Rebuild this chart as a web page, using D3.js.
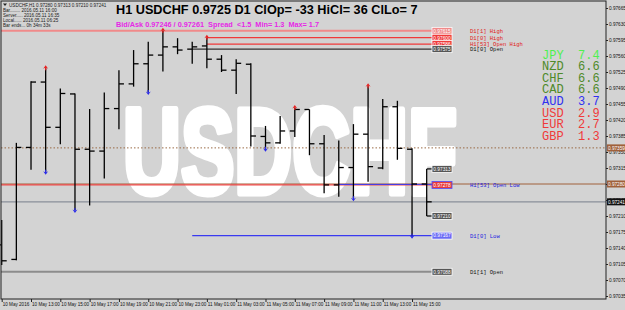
<!DOCTYPE html>
<html>
<head>
<meta charset="utf-8">
<script src="https://cdn.jsdelivr.net/npm/d3@7"></script>
<style>
  body { margin: 0; background: #d3d3d3; }
  svg { display: block; font-family: "Liberation Sans", Arial, sans-serif; }
  .mono { font-family: "Liberation Mono", "DejaVu Sans Mono", monospace; }
</style>
</head>
<body>
<div id="chart"></div>
<script>
// chart size, that is the window
const WIDTH = 625;
const HEIGHT = 310;
const PLOT = { left: 1, top: 1, right: 606, bottom: 299 };

// H1 bars, 10 May 11:00 .. 11 May 16:00
const barOpen = [0.97147, 0.97115, 0.97360, 0.97503, 0.97404, 0.97477, 0.97356, 0.97352, 0.97445, 0.97499,
  0.97543, 0.97562, 0.97580, 0.97575, 0.97582, 0.97553, 0.97529, 0.97542, 0.97384, 0.97370,
  0.97396, 0.97443, 0.97368, 0.97278, 0.97316, 0.97389, 0.97315, 0.97449, 0.97356, 0.97280];
const barHigh = [0.97201, 0.97370, 0.97505, 0.97533, 0.97489, 0.97478, 0.97444, 0.97480, 0.97529, 0.97573,
  0.97591, 0.97615, 0.97599, 0.97591, 0.97600, 0.97562, 0.97553, 0.97544, 0.97407, 0.97429,
  0.97446, 0.97443, 0.97387, 0.97375, 0.97411, 0.97494, 0.97466, 0.97462, 0.97358, 0.97313];
const barLow = [0.97103, 0.97113, 0.97311, 0.97307, 0.97367, 0.97223, 0.97233, 0.97292, 0.97400, 0.97493,
  0.97481, 0.97526, 0.97564, 0.97543, 0.97533, 0.97525, 0.97477, 0.97362, 0.97357, 0.97368,
  0.97383, 0.97343, 0.97260, 0.97252, 0.97249, 0.97285, 0.97312, 0.97333, 0.97167, 0.97210];
const barClose = [0.97112, 0.97360, 0.97503, 0.97404, 0.97478, 0.97356, 0.97352, 0.97445, 0.97499, 0.97543,
  0.97562, 0.97580, 0.97573, 0.97580, 0.97553, 0.97529, 0.97544, 0.97385, 0.97370, 0.97396,
  0.97443, 0.97368, 0.97278, 0.97316, 0.97389, 0.97318, 0.97449, 0.97358, 0.97280, 0.97241];

// fractal arrows (bar index)
const fractalUp = [3, 11, 14, 20, 25];
const fractalDown = [3, 5, 10, 18, 24, 28];

// time axis
const xTickBars = [0, 2, 4, 6, 8, 10, 12, 14, 16, 18, 20, 22, 24, 26, 28];
const xTickLabels = ["10 May 2016", "10 May 13:00", "10 May 15:00", "10 May 17:00", "10 May 19:00",
  "10 May 21:00", "10 May 23:00", "11 May 01:00", "11 May 03:00", "11 May 05:00", "11 May 07:00",
  "11 May 09:00", "11 May 11:00", "11 May 13:00", "11 May 15:00"];

// price axis
const yTicks = [0.97665, 0.97630, 0.97595, 0.97560, 0.97525, 0.97490, 0.97455, 0.97420, 0.97385,
  0.97350, 0.97315, 0.97280, 0.97245, 0.97210, 0.97175, 0.97140, 0.97105, 0.97070, 0.97035];

// levels drawn by the indicator
const levelNames = ["D1[1] High", "D1[0] High", "H1[53] Open High", "D1[0] Open", "H1[53] Open Low", "D1[0] Low", "D1[1] Open"];
const levelPrices = [0.97615, 0.97600, 0.97586, 0.97575, 0.97278, 0.97167, 0.97088];
const levelFromBar = [0, 14, 14, 13, 0, 13, 0];

// full width lines with a price flag on the axis
const dottedLevel = 0.97359;
const openLevel = 0.97280;
const bidPrice = 0.97246;
const askPrice = 0.97261;

// currency strength table
const currNames = ["JPY", "NZD", "CHF", "CAD", "AUD", "USD", "EUR", "GBP"];
const currValues = [7.4, 6.6, 6.6, 6.6, 3.7, 2.9, 2.7, 1.3];

const levelColor = {
  "D1[1] High": "#f08a8a", "D1[0] High": "#f03a3a", "H1[53] Open High": "#f03a3a",
  "D1[0] Open": "#333333", "H1[53] Open Low": "#f04a4a", "D1[0] Low": "#3a3af0", "D1[1] Open": "#8c8c8c"
};
const levelTextColor = {
  "D1[1] High": "#e02020", "D1[0] High": "#e02020", "H1[53] Open High": "#e02020",
  "D1[0] Open": "#111111", "H1[53] Open Low": "#2020e0", "D1[0] Low": "#2020e0", "D1[1] Open": "#111111"
};
const currColor = {
  JPY: "#4ef04e", NZD: "#4f8a2a", CHF: "#4f8a2a", CAD: "#4f8a2a",
  AUD: "#3030f0", USD: "#f03a3a", EUR: "#f03a3a", GBP: "#f03a3a"
};

const fmt = d3.format(".5f");

const svg = d3.select("#chart").append("svg")
  .attr("width", WIDTH)
  .attr("height", HEIGHT);

svg.append("rect").attr("width", WIDTH).attr("height", HEIGHT).attr("fill", "#d3d3d3");

const xscale = d3.scaleLinear().domain([0, 29]).range([1.7, 426.7]);
const yscale = d3.scaleLinear().domain([0.97035, 0.97665]).range([296, 8]);

const BOX_X = 432;

// watermark, heavy white letters
svg.append("text")
  .attr("x", 123)
  .attr("y", 193)
  .attr("textLength", 334)
  .attr("lengthAdjust", "spacingAndGlyphs")
  .style("font-size", "120px")
  .style("font-weight", "bold")
  .attr("fill", "#ffffff")
  .attr("stroke", "#ffffff")
  .attr("stroke-width", 7)
  .attr("stroke-linejoin", "round")
  .text("USDCHF");

// full width lines
svg.append("line")
  .attr("x1", PLOT.left).attr("x2", PLOT.right)
  .attr("y1", yscale(dottedLevel)).attr("y2", yscale(dottedLevel))
  .attr("stroke", "#9a6a45").attr("stroke-dasharray", "1.5,2");
svg.append("line")
  .attr("x1", PLOT.left).attr("x2", PLOT.right)
  .attr("y1", yscale(openLevel)).attr("y2", yscale(openLevel))
  .attr("stroke", "#a0603a");
svg.append("line")
  .attr("x1", PLOT.left).attr("x2", PLOT.right)
  .attr("y1", yscale(barClose[29])).attr("y2", yscale(barClose[29]))
  .attr("stroke", "#8a8f9a").attr("stroke-width", 1.2);

// indicator levels
const levels = levelNames.map((n, i) => ({ name: n, price: levelPrices[i], from: levelFromBar[i] }));

svg.selectAll(".level")
  .data(levels)
  .enter()
  .append("line")
  .attr("class", "level")
  .attr("x1", (d) => (d.from === 0 ? PLOT.left : xscale(d.from)))
  .attr("x2", BOX_X)
  .attr("y1", (d) => yscale(d.price))
  .attr("y2", (d) => yscale(d.price))
  .attr("stroke", (d) => levelColor[d.name])
  .attr("stroke-width", (d) => (d.name === "D1[1] High" || d.name === "D1[1] Open" ? 2 : 1.2));

// blue overlay on the open low level, from bar 23
svg.append("line")
  .attr("x1", xscale(23)).attr("x2", BOX_X)
  .attr("y1", yscale(levelPrices[4]) - 0.5).attr("y2", yscale(levelPrices[4]) - 0.5)
  .attr("stroke", "#3a3af0").attr("stroke-width", 1);

// bars
const bars = barOpen.map((o, i) => ({ i, o, h: barHigh[i], l: barLow[i], c: barClose[i] }));
const barG = svg.append("g").attr("stroke", "#000").attr("stroke-width", 1.3);

barG.selectAll(".hl").data(bars).enter().append("line")
  .attr("x1", (d) => xscale(d.i)).attr("x2", (d) => xscale(d.i))
  .attr("y1", (d) => yscale(d.h)).attr("y2", (d) => yscale(d.l));
barG.selectAll(".op").data(bars).enter().append("line")
  .attr("x1", (d) => xscale(d.i) - 5).attr("x2", (d) => xscale(d.i))
  .attr("y1", (d) => yscale(d.o)).attr("y2", (d) => yscale(d.o));
barG.selectAll(".cl").data(bars).enter().append("line")
  .attr("x1", (d) => xscale(d.i)).attr("x2", (d) => xscale(d.i) + 5)
  .attr("y1", (d) => yscale(d.c)).attr("y2", (d) => yscale(d.c));

// fractals
svg.selectAll(".fup").data(fractalUp).enter().append("path")
  .attr("fill", "#e82020")
  .attr("d", (i) => {
    const x = xscale(i), y = yscale(barHigh[i]) - 2;
    return `M${x - 2.5},${y + 2.5}L${x},${y - 1}L${x + 2.5},${y + 2.5}L${x + 0.6},${y + 1.5}L${x + 0.6},${y + 4}L${x - 0.6},${y + 4}L${x - 0.6},${y + 1.5}Z`;
  });
svg.selectAll(".fdn").data(fractalDown).enter().append("path")
  .attr("fill", "#2a2ae8")
  .attr("d", (i) => {
    const x = xscale(i), y = yscale(barLow[i]) + 2;
    return `M${x - 2.5},${y - 2.5}L${x},${y + 1}L${x + 2.5},${y - 2.5}L${x + 0.6},${y - 1.5}L${x + 0.6},${y - 4}L${x - 0.6},${y - 4}L${x - 0.6},${y - 1.5}Z`;
  });

// leader ticks of the running bar high/low
[barHigh[29], barLow[29]].forEach((p) => {
  svg.append("line")
    .attr("x1", xscale(29)).attr("x2", BOX_X)
    .attr("y1", yscale(p)).attr("y2", yscale(p))
    .attr("stroke", "#000").attr("stroke-width", 1.2);
});

// price flags next to the levels
function priceBox(price, fill, border) {
  const y = yscale(price);
  svg.append("rect")
    .attr("x", BOX_X).attr("y", y - 3.5)
    .attr("width", 20).attr("height", 7)
    .attr("fill", fill).attr("stroke", border).attr("stroke-width", 0.8);
  svg.append("text")
    .attr("x", BOX_X + 10).attr("y", y + 1.8)
    .attr("text-anchor", "middle")
    .style("font-size", "4.8px")
    .attr("fill", "#fff")
    .text(fmt(price));
}

levels.forEach((d) => {
  let fill = levelColor[d.name];
  let border = "#fff";
  if (d.name === "D1[0] Open" || d.name === "D1[1] Open") fill = "#555";
  if (d.name === "H1[53] Open Low") { fill = "#e83a3a"; border = "#5050ff"; }
  if (d.name === "D1[0] Low") { fill = "#6a6af5"; border = "#fff"; }
  priceBox(d.price, fill, border);
  svg.append("text")
    .attr("class", "mono")
    .attr("x", 470).attr("y", yscale(d.price) + 2.3)
    .style("font-size", "5.5px")
    .attr("fill", levelTextColor[d.name])
    .text(d.name);
});
priceBox(barHigh[29], "#555", "#fff");
priceBox(barLow[29], "#555", "#fff");

// frame
svg.append("rect")
  .attr("x", PLOT.left).attr("y", PLOT.top)
  .attr("width", PLOT.right - PLOT.left).attr("height", PLOT.bottom - PLOT.top)
  .attr("fill", "none").attr("stroke", "#222").attr("stroke-width", 1);

// price axis
const yAxis = d3.axisRight(yscale).tickValues(yTicks).tickFormat(fmt).tickSize(2).tickPadding(1);
const yg = svg.append("g").attr("transform", `translate(${PLOT.right},0)`).call(yAxis);
yg.select(".domain").remove();
yg.selectAll("text").style("font-size", "4.7px").attr("fill", "#111");
yg.selectAll("line").attr("stroke", "#222");

function axisFlag(price, fill, textColor) {
  const y = yscale(price);
  svg.append("rect")
    .attr("x", PLOT.right + 1).attr("y", y - 3.5)
    .attr("width", 18).attr("height", 7).attr("fill", fill);
  svg.append("text")
    .attr("x", PLOT.right + 2).attr("y", y + 1.7)
    .style("font-size", "4.7px").attr("fill", textColor)
    .text(fmt(price));
}
axisFlag(dottedLevel, "#a0603a", "#fff");
axisFlag(openLevel, "#a0603a", "#fff");
axisFlag(barClose[29], "#111", "#fff");

// time axis
const xAxis = d3.axisBottom(xscale).tickValues(xTickBars)
  .tickFormat((d, i) => xTickLabels[i]).tickSize(3).tickPadding(1);
const xg = svg.append("g").attr("transform", `translate(0,${PLOT.bottom})`).call(xAxis);
xg.select(".domain").remove();
xg.selectAll("text").attr("text-anchor", "start").attr("dx", "0.5").style("font-size", "4.6px").attr("fill", "#111");
xg.selectAll("line").attr("stroke", "#222");

// title and spread line
svg.append("text")
  .attr("x", 116).attr("y", 14)
  .style("font-size", "12.7px").style("font-weight", "bold")
  .attr("fill", "#000")
  .text("H1 USDCHF 0.9725 D1 ClOp= -33 HiCl= 36 ClLo= 7");

svg.append("text")
  .attr("x", 116).attr("y", 26.5)
  .attr("xml:space", "preserve")
  .style("white-space", "pre")
  .style("font-size", "7.3px").style("font-weight", "bold")
  .attr("fill", "#e628e6")
  .text(`Bid/Ask ${fmt(bidPrice)} / ${fmt(askPrice)}  Spread  <1.5  Min= 1.3  Max= 1.7`);

// info block, top left
const info = ["USDCHF,H1  0.97280 0.97313 0.97210 0.97241", "Bar........ 2016.05.11 16:00",
  "Server..... 2016.05.11 16:35", "Local...... 2016.05.11 06:25", "Bar ends... 0h 34m 33s"];
svg.append("path").attr("d", "M3,3.5L7,3.5L5,6Z").attr("fill", "#222");
svg.selectAll(".info").data(info).enter().append("text")
  .attr("x", (d, i) => (i === 0 ? 9 : 3))
  .attr("y", (d, i) => 7 + i * 5)
  .style("font-size", "4.6px")
  .attr("fill", "#222")
  .text((d) => d);

// currency strength
svg.selectAll(".curr").data(currNames).enter().append("text")
  .attr("class", "mono")
  .attr("x", 542)
  .attr("y", (d, i) => 58.5 + i * 11.6)
  .attr("xml:space", "preserve")
  .style("white-space", "pre")
  .style("font-size", "12px")
  .attr("fill", (d) => currColor[d])
  .text((d, i) => `${d}  ${currValues[i].toFixed(1)}`);
</script>
</body>
</html>
